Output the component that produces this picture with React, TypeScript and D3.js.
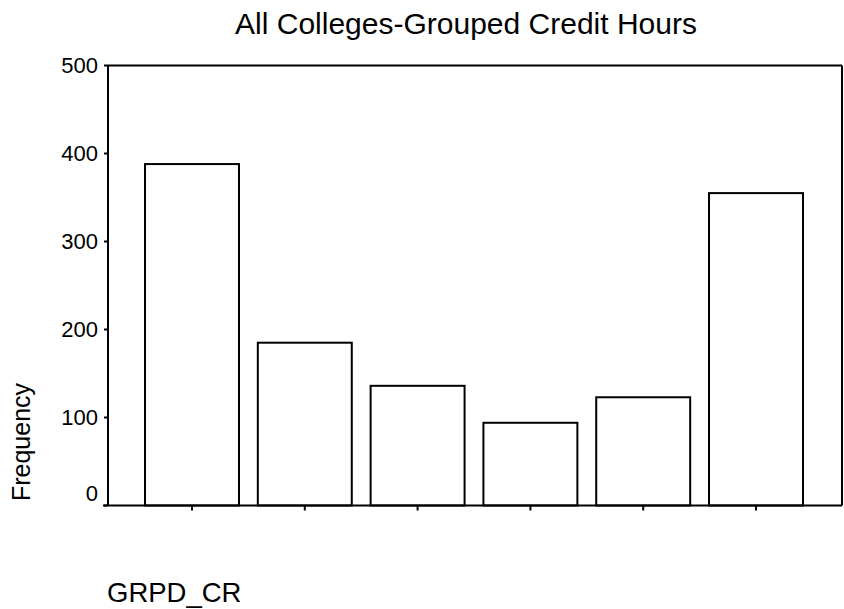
import React from "react";
import * as d3 from "d3";

const title = "All Colleges-Grouped Credit Hours";
const categories = ["1", "2", "3", "4", "5", "6"];
const frequencies = [388, 185, 136, 94, 123, 355];
const yTicks = [0, 100, 200, 300, 400, 500];
const yLabel = "Frequency";
const xVarName = "GRPD_CR";

const W = 844;
const H = 609;
const plotLeft = 108;
const plotRight = 842;
const plotTop = 65.5;
const plotBottom = 505.5;
const font = "'Liberation Sans', Arial, Helvetica, sans-serif";

export default function App() {
  const y = d3.scaleLinear().domain([0, 500]).range([plotBottom, plotTop]);
  const x = d3
    .scaleBand<string>()
    .domain(categories)
    .range([135.6, 812.4])
    .paddingInner(0.167)
    .paddingOuter(0.0835);

  return (
    <svg
      width={W}
      height={H}
      style={{ position: "absolute", left: 0, top: 0, background: "#fff" }}
      fontFamily={font}
    >
      <rect x={0} y={0} width={W} height={H} fill="#fff" />
      <text x={466} y={34} textAnchor="middle" fontSize={30} fill="#000">
        {title}
      </text>
      {/* bars */}
      {frequencies.map((v, i) => (
        <rect
          key={i}
          x={x(categories[i])!}
          y={y(v)}
          width={x.bandwidth()}
          height={y(0) - y(v)}
          fill="#fff"
          stroke="#000"
          strokeWidth={2}
        />
      ))}
      {/* frame */}
      <line x1={plotLeft} x2={plotRight} y1={plotTop} y2={plotTop} stroke="#000" strokeWidth={2} />
      <line x1={plotRight} x2={plotRight} y1={plotTop} y2={plotBottom} stroke="#000" strokeWidth={2} />
      <line x1={plotLeft} x2={plotLeft} y1={plotTop} y2={plotBottom} stroke="#000" strokeWidth={2} />
      <line x1={plotLeft - 5} x2={plotRight} y1={plotBottom} y2={plotBottom} stroke="#000" strokeWidth={2} />
      {/* y ticks */}
      {yTicks.map((t) => (
        <g key={t}>
          <line x1={plotLeft - 4} x2={plotLeft} y1={y(t)} y2={y(t)} stroke="#000" strokeWidth={2} />
          <text
            x={98}
            y={t === 0 ? y(t) - 12.5 : y(t)}
            textAnchor="end"
            dominantBaseline="central"
            fontSize={22}
            fill="#000"
          >
            {t}
          </text>
        </g>
      ))}
      {/* x ticks */}
      {categories.map((c) => (
        <line
          key={c}
          x1={x(c)! + x.bandwidth() / 2}
          x2={x(c)! + x.bandwidth() / 2}
          y1={plotBottom}
          y2={plotBottom + 5}
          stroke="#000"
          strokeWidth={2}
        />
      ))}
      <text
        transform={`translate(30, 442) rotate(-90)`}
        textAnchor="middle"
        fontSize={25}
        fill="#000"
      >
        {yLabel}
      </text>
      <text x={107} y={602} fontSize={27.5} fill="#000">
        {xVarName}
      </text>
    </svg>
  );
}
